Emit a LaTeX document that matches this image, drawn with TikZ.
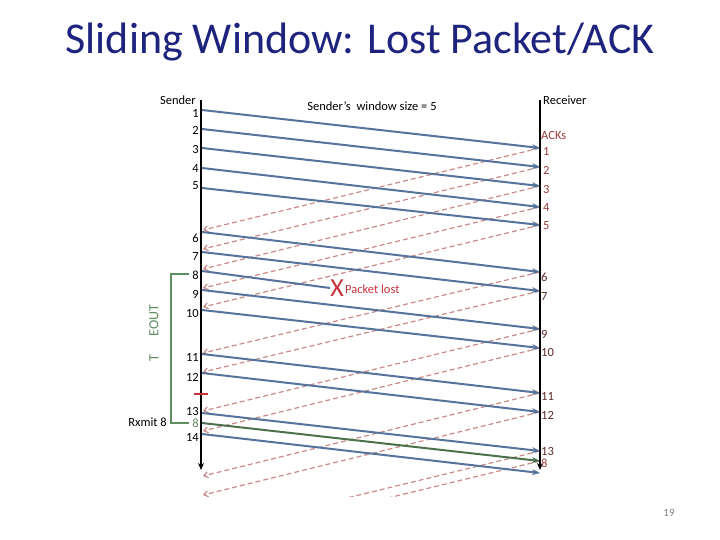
\documentclass[tikz,border=0pt]{standalone}
\usepackage{fontspec}
\setmainfont{Carlito}
\usetikzlibrary{arrows.meta}
\definecolor{titleblue}{HTML}{1E237E}
\definecolor{pktc}{HTML}{56739C}
\definecolor{ackc}{HTML}{C98A8A}
\definecolor{ackred}{HTML}{9A3B3B}
\definecolor{rcvlab}{HTML}{5A2A2A}
\definecolor{tgreen}{HTML}{5E8E5E}
\definecolor{lostred}{HTML}{C8323C}
\tikzset{
  pktline/.style={draw=pktc, line width=2pt, -{Stealth[length=8pt,width=6pt]}},
  ackline/.style={draw=ackc, line width=1.2pt, dash pattern=on 5pt off 3pt, -{Straight Barb[length=4pt,width=6pt]}},
  lab/.style={font=\fontsize{12.5}{13}\selectfont, inner sep=0pt},
  slab/.style={lab, anchor=east},
  rlab/.style={lab, anchor=west, text=rcvlab},
  alab/.style={lab, anchor=west, text=ackred},
  timeline/.style={draw=black, line width=1.4pt, -{Stealth[length=7pt,width=6pt]}}
}
\begin{document}
\begin{tikzpicture}[x=1pt,y=-1pt]
\useasboundingbox (0,0) rectangle (720,540);
% title
\node[font=\fontsize{44}{48}\selectfont, text=titleblue, inner sep=0pt] (title) at (360,42) {Sliding Window: Lost Packet/ACK};
% time lines
\coordinate (stop) at (201,100);
\coordinate (sbot) at (201,470);
\coordinate (rtop) at (540,100);
\coordinate (rbot) at (540,470);
\node[lab, anchor=east] (sender) at (196,100) {Sender};
\node[lab, anchor=west] (receiver) at (543,100) {Receiver};
\node[lab] (win) at (372,106) {Sender's\ \ window size = 5};
\node[alab] (acks) at (541,135) {ACKs};
% ACKs (dashed)
\begin{scope}
\clip (0,0) rectangle (720,496);
\foreach \i/\ry/\sy in {1/148/230, 2/167/249, 3/186/269, 4/207/288, 5/225/307, 6/272/353, 7/291/372, 9/329/411, 10/348/431, 11/393/476, 12/412/495, 13/451/533, 14/461/543}{
  \coordinate (ar\i) at (540,\ry);
  \coordinate (as\i) at (203,\sy);
  \draw[ackline] (ar\i) -- (as\i);
}
\end{scope}
% data packets
\foreach \i/\sy/\ry in {1/110/148, 2/129/167, 3/148/186, 4/168/207, 5/188/225, 6/232/272, 7/252/291, 9/290/329, 10/310/348, 11/354/393, 12/373/412, 13/413/451, 14/434/473}{
  \coordinate (s\i) at (202,\sy);
  \coordinate (r\i) at (540,\ry);
  \draw[pktline] (s\i) -- (r\i);
}
% lost packet 8
\coordinate (s8) at (202,271);
\node[text=lostred, font=\fontsize{26}{26}\selectfont, inner sep=0pt] (lostx) at (337,288) {X};
\node[lab, text=lostred, anchor=west] (lost) at (345,289) {Packet lost};
\draw[draw=pktc, line width=2pt] (s8) -- (lostx.west);
% retransmitted 8
\coordinate (s8g) at (202,423);
\coordinate (r8g) at (540,461);
\draw[draw=tgreen!80!black, line width=2pt, -{Stealth[length=8pt,width=6pt]}] (s8g) -- (r8g);
% time lines on top
\draw[timeline] (stop) -- (sbot);
\draw[timeline] (rtop) -- (rbot);
% sender labels
\foreach \t/\y in {1/113, 2/130, 3/149, 4/168, 5/186, 6/238, 7/256, 8/275, 9/294, 10/313, 11/357, 12/377, 13/411, 14/437}{
  \node[slab] (sl\t) at (199,\y) {\t};
}
\node[slab, text=tgreen] (sl8g) at (199,423) {8};
% receiver labels
\foreach \t/\y in {1/151, 2/170, 3/189, 4/207, 5/226}{
  \node[alab] (ra\t) at (543,\y) {\t};
}
\foreach \t/\y in {6/277, 7/296, 9/334, 10/352, 11/396, 12/415, 13/451}{
  \node[rlab] (rl\t) at (541,\y) {\t};
}
\node[alab] (rl8g) at (541,463) {8};
% timeout bracket
\coordinate (bt) at (189,274);
\coordinate (bb) at (189,423);
\draw[draw=tgreen, line width=1.6pt] (bt) -- (171,274) -- (171,423) -- (bb);
\node[lab, text=tgreen, font=\fontsize{14}{14}\selectfont, rotate=90] (tmo) at (154,333) {T\hspace{18pt}EOUT};
\node[lab, anchor=east] (rxmit) at (167,422) {Rxmit 8};
% timeout tick
\coordinate (tk1) at (194,394);
\coordinate (tk2) at (208,394);
\draw[draw=lostred, line width=2.2pt] (tk1) -- (tk2);
% page number
\node[font=\fontsize{11}{12}\selectfont, text=gray] (pg) at (669,513) {19};
\end{tikzpicture}
\end{document}
